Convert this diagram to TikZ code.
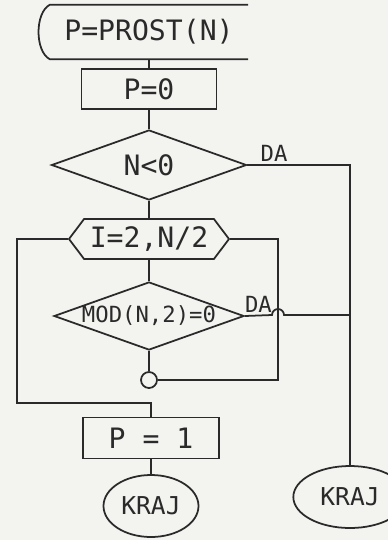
\documentclass[tikz,border=0pt]{standalone}
\usepackage{fontspec}
\setmonofont{DejaVu Sans Mono}
\usepackage{xcolor}
\definecolor{fcink}{HTML}{2A2A2A}
\definecolor{fcpaper}{HTML}{F3F3F0}
\usetikzlibrary{shapes.geometric,shapes.symbols,calc}
\tikzset{
  fcbase/.style={font=\ttfamily\fontsize{24}{26}\selectfont,text=fcink,inner sep=0pt},
  fcbox/.style={fcbase,draw=fcink,line width=1.5pt},
  fcdec/.style={fcbase,draw=fcink,line width=1.5pt,diamond,aspect=2.8},
  fcloop/.style={fcbase,draw=fcink,line width=1.5pt,signal,signal to=east and west,signal pointer angle=106},
  fcterm/.style={fcbase,ellipse,draw=fcink,line width=1.5pt,font=\ttfamily\fontsize{21}{23}\selectfont},
  fcjoin/.style={circle,draw=fcink,line width=1.5pt,minimum size=4.8mm,inner sep=0pt},
  fcline/.style={draw=fcink,line width=1.5pt},
  fclabel/.style={fcbase,font=\ttfamily\fontsize{19}{21}\selectfont},
}

\begin{document}
\begin{tikzpicture}[x=0.3mm,y=-0.3mm]
\fill[fcpaper] (0,0) rectangle (388,540);
\useasboundingbox (0,0) rectangle (388,540);
\clip (0,0) rectangle (388,540);
% main column
\node[fcbase,minimum width=59.4mm,minimum height=16.2mm] (start) at (149,32) {P=PROST(N)};
\draw[fcline] (start.north east) -- (start.north west) .. controls ($(start.north west)+(-15,8)$) and ($(start.south west)+(-15,-8)$) .. (start.south west) -- (start.south east);
\node[fcbox,minimum width=40.5mm,minimum height=12mm] (pzero) at (149,89) {P=0};
\node[fcdec,minimum width=58.5mm,minimum height=21mm] (neg) at (149,165) {N<0};
\node[fcloop,minimum width=48mm,minimum height=12mm] (loop) at (149,239) {I=2,N/2};
\node[fcdec,minimum width=56mm,minimum height=20.4mm,font=\ttfamily\fontsize{19}{21}\selectfont] (mod) at (149,316) {MOD(N,2)=0};
\node[fcjoin] (join) at (149,380) {};
\node[fcbox,minimum width=41mm,minimum height=12.3mm] (pone) at (151,438) {P = 1};
\node[fcterm,minimum width=28.5mm,minimum height=18.6mm] (endA) at (151,506) {KRAJ};
\node[fcterm,minimum width=34mm,minimum height=18.6mm] (endB) at (350,497) {KRAJ};
\coordinate (exitL) at (17,403);
\coordinate (retR) at (278,239);
\coordinate (hop) at (278,315);
\coordinate (daB) at (endB |- hop);

\draw[fcline] (start.south) -- (pzero.north);
\draw[fcline] (pzero.south) -- (neg.north);
\draw[fcline] (neg.east) -| (endB) node[fclabel,pos=0.13,above=2pt]{DA};
\draw[fcline] (neg.south) -- (loop.north);
\draw[fcline] (loop.south) -- (mod.north);
\draw[fcline] (mod.south) -- (join.north);
\draw[fcline] (join.east) -| (retR) -- (loop.east);
\draw[fcline] (mod.east) -- node[fclabel,above=2pt]{DA} ($(hop)+(-6,0)$) arc[start angle=180,end angle=360,radius=6] -- (daB);
\draw[fcline] (loop.west) -| (exitL) -- (exitL -| pone.north) -- (pone.north);
\draw[fcline] (pone.south) -- (endA.north);
\end{tikzpicture}
\end{document}
